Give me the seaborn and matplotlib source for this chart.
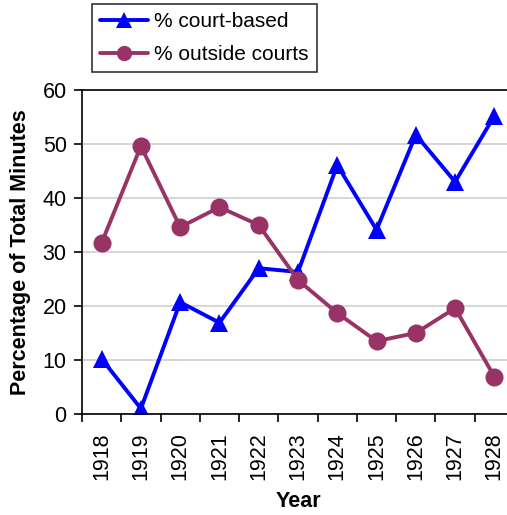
## Court-based vs outside-court minutes, 1918-1928
import numpy as np
import pandas as pd
import matplotlib
matplotlib.use("Agg")
import matplotlib.pyplot as plt
import seaborn as sns
from matplotlib.lines import Line2D

## Data
years = [1918, 1919, 1920, 1921, 1922, 1923, 1924, 1925, 1926, 1927, 1928]
court_based = [10.2, 1.0, 20.7, 16.9, 27.0, 26.3, 46.1, 34.1, 51.7, 43.0, 55.2]
outside_courts = [31.7, 49.6, 34.6, 38.3, 35.0, 24.8, 18.7, 13.5, 15.0, 19.6, 6.9]

series_names = ["% court-based", "% outside courts"]
series_colors = ["#0000FF", "#993366"]

df = pd.DataFrame({
    "Year": years * 2,
    "Value": court_based + outside_courts,
    "Series": [series_names[0]] * len(years) + [series_names[1]] * len(years),
})

sns.set_style("white")
plt.rcParams["font.family"] = ["Liberation Sans", "DejaVu Sans"]
plt.rcParams["text.color"] = "black"
plt.rcParams["axes.labelcolor"] = "black"
plt.rcParams["xtick.color"] = "black"
plt.rcParams["ytick.color"] = "black"

fig = plt.figure(figsize=(5.07, 5.15), dpi=100)
ax = fig.add_axes([82 / 507, 101 / 515, 432 / 507, 324 / 515])

sns.lineplot(data=df, x="Year", y="Value", hue="Series", style="Series",
             palette=series_colors, markers=["^", "o"], dashes=False,
             markersize=13, markeredgewidth=0, linewidth=2.8, ax=ax, legend=False)

# Axis limits, grid and spines
ax.set_xlim(1917.5, 1928.5)
ax.set_ylim(0, 60)
ax.set_yticks(range(0, 61, 10))
ax.yaxis.grid(True, color="#d0d0d0", linewidth=1.2)
ax.set_axisbelow(True)
for side in ["left", "bottom", "top", "right"]:
    ax.spines[side].set_color("black")
    ax.spines[side].set_linewidth(1.2)

# Ticks between categories, labels at centers
ax.set_xticks(np.arange(1917.5, 1929, 1.0))
ax.set_xticklabels([])
ax.set_xticks(years, minor=True)
ax.set_xticklabels([str(y) for y in years], minor=True, rotation=90, fontsize=15.5)
ax.tick_params(axis="x", which="major", length=6, width=1.2, direction="out", bottom=True)
ax.tick_params(axis="x", which="minor", length=0, pad=13)
ax.tick_params(axis="y", length=6, width=1.2, direction="out", left=True, labelsize=15.5, pad=5)

ax.set_xlabel("Year", fontsize=15.5, fontweight="bold", labelpad=8)
ax.set_ylabel("Percentage of Total Minutes", fontsize=15.5, fontweight="bold", labelpad=8)

# Legend box above the plot
handles = [Line2D([], [], color=series_colors[0], marker="^", markersize=11, linewidth=2.8, markeredgewidth=0),
           Line2D([], [], color=series_colors[1], marker="o", markersize=11, linewidth=2.8, markeredgewidth=0)]
leg = fig.legend(handles, series_names, loc="upper left", bbox_to_anchor=(92 / 507, 1 - 4 / 515),
                 fontsize=15, frameon=True, fancybox=False, edgecolor="black",
                 handlelength=2.3, handletextpad=0.3, borderpad=0.4, labelspacing=0.65,
                 borderaxespad=0)
leg.get_frame().set_linewidth(1.2)

fig.savefig("out.png", dpi=100)
